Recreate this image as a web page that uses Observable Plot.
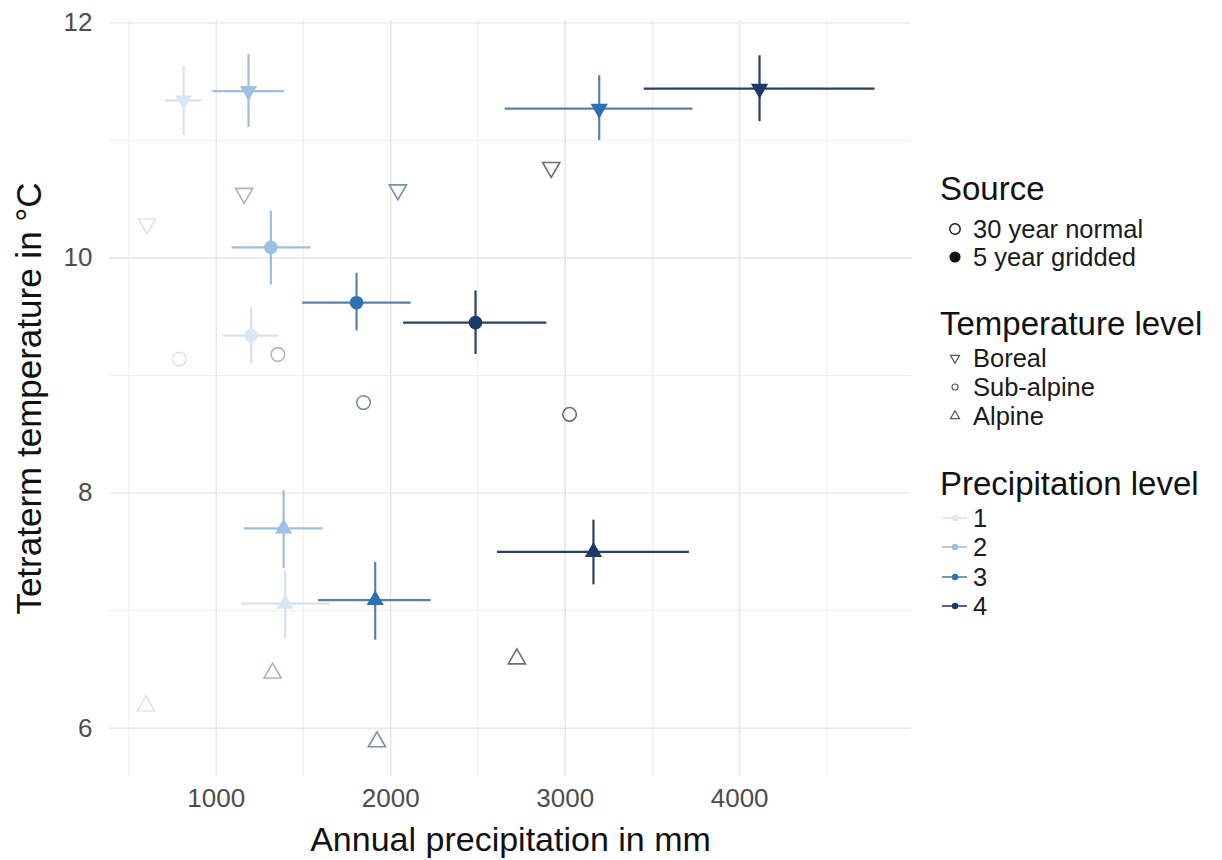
<!DOCTYPE html>
<html>
<head>
<meta charset="utf-8">
<script src="https://cdn.jsdelivr.net/npm/d3@7"></script>
<script src="https://cdn.jsdelivr.net/npm/@observablehq/plot@0.6"></script>
<style>
  html, body { margin: 0; padding: 0; background: #ffffff; }
  #chart { position: relative; width: 1222px; height: 860px; }
</style>
</head>
<body>
<div id="chart"></div>
<script>
// ---------- data ----------
const precipLevels = [1, 2, 3, 4];
const tempLevels = ["Boreal", "Sub-alpine", "Alpine"];
const sourceLabels = ["30 year normal", "5 year gridded"];

// 5 year gridded (means with ranges), order: Boreal p1..p4, Sub-alpine p1..p4, Alpine p1..p4
const griddedTemp = ["Boreal","Boreal","Boreal","Boreal","Sub-alpine","Sub-alpine","Sub-alpine","Sub-alpine","Alpine","Alpine","Alpine","Alpine"];
const griddedPrec = [1, 2, 3, 4, 1, 2, 3, 4, 1, 2, 3, 4];
const griddedPrecip   = [813, 1185, 3195, 4114, 1200, 1313, 1804, 2486, 1395, 1386, 1911, 3162];
const griddedPrecipLo = [708,  981, 2656, 3453, 1042, 1090, 1495, 2074, 1147, 1162, 1586, 2612];
const griddedPrecipHi = [918, 1391, 3732, 4776, 1357, 1543, 2117, 2895, 1649, 1611, 2232, 3712];
const griddedTemper   = [11.34, 11.42, 11.27, 11.44, 9.34, 10.09, 9.62, 9.45, 7.06, 7.70, 7.09, 7.50];
const griddedTemperLo = [11.04, 11.11, 11.00, 11.16, 9.10, 9.77, 9.38, 9.18, 6.76, 7.36, 6.75, 7.22];
const griddedTemperHi = [11.63, 11.73, 11.55, 11.72, 9.58, 10.40, 9.87, 9.72, 7.34, 8.02, 7.41, 7.77];

// 30 year normal
const normalTemp = ["Boreal","Boreal","Boreal","Boreal","Sub-alpine","Sub-alpine","Sub-alpine","Sub-alpine","Alpine","Alpine","Alpine","Alpine"];
const normalPrec = [1, 2, 3, 4, 1, 2, 3, 4, 1, 2, 3, 4];
const normalPrecip = [603, 1160, 2041, 2920, 788, 1353, 1844, 3025, 597, 1323, 1921, 2723];
const normalTemper = [10.29, 10.55, 10.58, 10.77, 9.14, 9.18, 8.77, 8.67, 6.19, 6.47, 5.885, 6.59];

// axes
const xTicks = [1000, 2000, 3000, 4000];
const xMinor = [500, 1500, 2500, 3500, 4500];
const yTicks = [6, 8, 10, 12];
const yMinor = [7, 9, 11];

// ---------- styles ----------
const pointColors  = ["#dae6f3", "#9cc1e5", "#2d70b4", "#1b3969"];
const barColors    = ["#d9e1eb", "#a0bddb", "#5880ab", "#2c3f5f"];
const hollowColors = ["#dfe3e8", "#aab5c2", "#7891aa", "#6b6e73"];

const gridded = griddedPrec.map((p, i) => ({
  temp: griddedTemp[i], prec: p,
  x: griddedPrecip[i], xlo: griddedPrecipLo[i], xhi: griddedPrecipHi[i],
  y: griddedTemper[i], ylo: griddedTemperLo[i], yhi: griddedTemperHi[i]
}));
const normal = normalPrec.map((p, i) => ({
  temp: normalTemp[i], prec: p, x: normalPrecip[i], y: normalTemper[i]
}));

const sqrt3 = Math.sqrt(3);
const triangleDown = {
  draw(ctx, size) {
    const y = -Math.sqrt(size / (sqrt3 * 3));
    ctx.moveTo(0, -y * 2);
    ctx.lineTo(-sqrt3 * y, y);
    ctx.lineTo(sqrt3 * y, y);
    ctx.closePath();
  }
};
const symbolFor = {"Boreal": triangleDown, "Sub-alpine": "circle", "Alpine": "triangle"};
const rFor = {"Boreal": 6.4, "Sub-alpine": 6.8, "Alpine": 6.4};

const font = "'Liberation Sans', Arial, Helvetica, sans-serif";

const dotMarks = [];
for (const t of tempLevels) {
  dotMarks.push(Plot.dot(normal.filter(d => d.temp === t), {
    x: "x", y: "y", symbol: symbolFor[t], r: rFor[t],
    stroke: d => hollowColors[d.prec - 1], strokeWidth: 1.6, fill: "none"
  }));
}
const filledMarks = [];
for (const t of tempLevels) {
  filledMarks.push(Plot.dot(gridded.filter(d => d.temp === t), {
    x: "x", y: "y", symbol: symbolFor[t], r: rFor[t],
    fill: d => pointColors[d.prec - 1], stroke: "none"
  }));
}

const chart = Plot.plot({
  width: 1222,
  height: 860,
  marginLeft: 109,
  marginRight: 311,
  marginTop: 20,
  marginBottom: 84,
  style: {fontFamily: font, fontSize: "26px", color: "#4d4d4d", background: "#ffffff", overflow: "visible"},
  x: {domain: [388, 4985]},
  y: {domain: [5.59, 12.02]},
  color: {type: "identity"},
  marks: [
    Plot.ruleX(xMinor, {stroke: "#eeeeee", strokeWidth: 1.1}),
    Plot.ruleY(yMinor, {stroke: "#eeeeee", strokeWidth: 1.1}),
    Plot.ruleX(xTicks, {stroke: "#e6e6e6", strokeWidth: 1.4}),
    Plot.ruleY(yTicks, {stroke: "#e6e6e6", strokeWidth: 1.4}),
    Plot.axisX({ticks: xTicks, tickSize: 0, tickPadding: 12, tickFormat: d => String(d), label: null, fill: "#4d4d4d"}),
    Plot.axisY({ticks: yTicks, tickSize: 0, tickPadding: 17, tickFormat: d => String(d), label: null, fill: "#4d4d4d"}),
    Plot.text(["Annual precipitation in mm"], {frameAnchor: "bottom", dy: 64, text: d => d, fontSize: 34, fill: "#111111", lineAnchor: "middle", textAnchor: "middle"}),
    Plot.text(["Tetraterm temperature in °C"], {frameAnchor: "left", dx: -80, rotate: -90, text: d => d, fontSize: 35, fill: "#111111", lineAnchor: "middle", textAnchor: "middle"}),
    ...dotMarks,
    Plot.ruleY(gridded, {y: "y", x1: "xlo", x2: "xhi", stroke: d => barColors[d.prec - 1], strokeWidth: 2.2}),
    Plot.ruleX(gridded, {x: "x", y1: "ylo", y2: "yhi", stroke: d => barColors[d.prec - 1], strokeWidth: 2.2}),
    ...filledMarks
  ]
});

document.getElementById("chart").appendChild(chart);

// ---------- legend ----------
const svg = d3.select(chart);
const lg = svg.append("g").attr("font-family", font).attr("text-anchor", "start");
const titleX = 940, symX = 955, textX = 973;

function title(txt, y) {
  lg.append("text").attr("x", titleX).attr("y", y).attr("dominant-baseline", "central")
    .attr("text-anchor", "start")
    .attr("font-size", 33).attr("fill", "#111111").text(txt);
}
function label(txt, y) {
  lg.append("text").attr("x", textX).attr("y", y).attr("dominant-baseline", "central")
    .attr("text-anchor", "start")
    .attr("font-size", 25.5).attr("fill", "#1a1a1a").text(txt);
}
const sourceY = [229, 257];
title("Source", 188);
lg.append("circle").attr("cx", symX).attr("cy", sourceY[0]).attr("r", 5.2)
  .attr("fill", "none").attr("stroke", "#111").attr("stroke-width", 1.4);
lg.append("circle").attr("cx", symX).attr("cy", sourceY[1]).attr("r", 5.6).attr("fill", "#111");
label(sourceLabels[0], sourceY[0]);
label(sourceLabels[1], sourceY[1]);

title("Temperature level", 323);
const tempY = [358, 387, 416];
const legendSyms = [triangleDown, d3.symbolCircle, d3.symbolTriangle];
tempLevels.forEach((t, i) => {
  lg.append("path")
    .attr("d", d3.symbol(legendSyms[i], i === 1 ? 28 : 36)())
    .attr("transform", `translate(${symX},${tempY[i]})`)
    .attr("fill", "none").attr("stroke", "#555").attr("stroke-width", 1.2);
  label(t, tempY[i]);
});

title("Precipitation level", 483);
const precY = [518, 547, 577, 606];
precipLevels.forEach((p, i) => {
  lg.append("line").attr("x1", 942).attr("x2", 967).attr("y1", precY[i]).attr("y2", precY[i])
    .attr("stroke", barColors[i]).attr("stroke-width", 1.6);
  lg.append("circle").attr("cx", symX).attr("cy", precY[i]).attr("r", 3.2).attr("fill", pointColors[i]);
  label(String(p), precY[i]);
});
</script>
</body>
</html>
